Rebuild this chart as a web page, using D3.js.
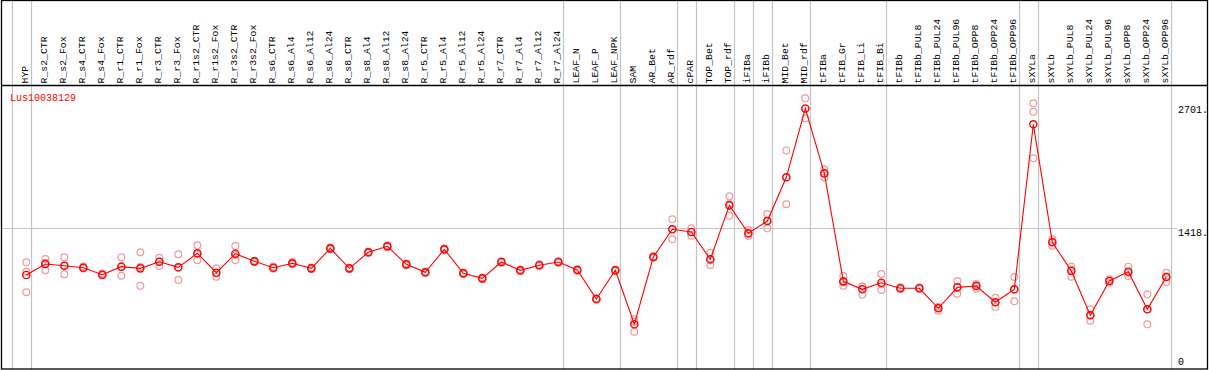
<!DOCTYPE html>
<html>
<head>
<meta charset="utf-8">
<script src="https://cdn.jsdelivr.net/npm/d3@7"></script>
<style>
  body { margin: 0; background: #fff; }
  text { font-family: "Liberation Mono", "DejaVu Sans Mono", monospace; }
</style>
</head>
<body>
<script>
var samples = ["HYP","R_s2_CTR","R_s2_Fox","R_s4_CTR","R_s4_Fox","R_r1_CTR","R_r1_Fox","R_r3_CTR","R_r3_Fox",
  "R_r1s2_CTR","R_r1s2_Fox","R_r3s2_CTR","R_r3s2_Fox","R_s6_CTR","R_s6_Al4","R_s6_Al12","R_s6_Al24",
  "R_s8_CTR","R_s8_Al4","R_s8_Al12","R_s8_Al24","R_r5_CTR","R_r5_Al4","R_r5_Al12","R_r5_Al24",
  "R_r7_CTR","R_r7_Al4","R_r7_Al12","R_r7_Al24","LEAF_N","LEAF_P","LEAF_NPK","SAM","AR_Bet","AR_rdf",
  "cPAR","TOP_Bet","TOP_rdf","iFIBa","iFIBb","MID_Bet","MID_rdf","tFIBa","tFIB_Gr","tFIB_Li","tFIB_Bi",
  "tFIBb","tFIBb_PUL8","tFIBb_PUL24","tFIBb_PUL96","tFIBb_OPP8","tFIBb_OPP24","tFIBb_OPP96",
  "sXYLa","sXYLb","sXYLb_PUL8","sXYLb_PUL24","sXYLb_PUL96","sXYLb_OPP8","sXYLb_OPP24","sXYLb_OPP96"];

// first sample of each tissue group (grey separators)
var groupStarts = ["HYP","R_s2_CTR","LEAF_N","SAM","cPAR","TOP_Bet","iFIBa","iFIBb","MID_Bet","tFIBa","tFIBb","sXYLa","sXYLb"];

var means = [920,1037,1019,998,923,1009,991,1062,1002,1152,944,1148,1066,998,1045,991,1205,991,1163,1227,
  1034,949,1195,938,884,1059,970,1024,1059,973,663,970,393,1112,1409,1380,1088,1665,1366,1497,1965,2701,
  2007,852,767,837,778,778,564,788,802,628,767,2532,1270,963,489,856,955,553,898];

var rep1 = [1056,1091,1109,990,935,1109,1163,1105,1141,1237,991,1230,1072,1012,1058,1000,1215,1001,1172,1238,
  1044,958,1205,948,893,1068,980,1034,1068,982,672,979,446,1121,1515,1419,1158,1761,1401,1572,2253,2810,
  2050,909,795,930,790,785,581,856,824,677,898,2756,1302,1009,553,874,1009,713,944];
var rep2 = [955,970,927,1010,915,912,805,1016,866,1077,902,1080,1059,988,1035,983,1196,982,1155,1218,
  1025,941,1186,929,876,1050,961,1015,1051,965,655,962,313,1104,1302,1340,1027,1554,1337,1419,1676,2596,
  1960,805,709,759,770,772,538,720,773,578,638,2666,1233,902,431,837,909,392,845];
var rep3 = [735,1050,1021,994,919,1006,1005,1065,999,1142,939,1134,1067,994,1042,990,1204,990,1162,1225,
  1033,948,1194,937,883,1059,969,1023,1058,972,662,969,420,1111,1410,1381,1079,1680,1360,1500,1966,2697,
  2011,842,797,822,774,777,573,788,809,629,765,2168,1275,978,483,857,947,554,905];

var geneName = "Lus10038129";
var yTicks = [0, 1418, 2701];
var yTickLabels = ["0", "1418.", "2701."];

var width = 1209, height = 370;
var svg = d3.select("body").append("svg")
    .attr("width", width)
    .attr("height", height);

var x = d3.scaleBand().domain(samples).range([11.7, 1170.7]);
var y = d3.scaleLinear().domain([0, 2701]).range([361, 108.5]);
var bw = x.bandwidth();
var px = function(i) { return x(samples[i]) + bw * 0.77; };

// vertical group separators
var seps = groupStarts.map(function(s) { return x(s); }).concat([x.range()[1]]);
svg.append("g").selectAll("line")
  .data(seps)
  .enter().append("line")
    .attr("x1", function(d) { return Math.round(d) + 0.5; })
    .attr("x2", function(d) { return Math.round(d) + 0.5; })
    .attr("y1", 0).attr("y2", height)
    .attr("stroke", "#c4c4c4")
    .attr("stroke-width", 1.2);

// horizontal grid at mean level
svg.append("line")
    .attr("x1", 1).attr("x2", 1177)
    .attr("y1", Math.round(y(1418)) + 0.5).attr("y2", Math.round(y(1418)) + 0.5)
    .attr("stroke", "#c4c4c4")
    .attr("stroke-width", 1.2);

// frame + header separator
svg.append("rect")
    .attr("x", 1.5).attr("y", 0.5)
    .attr("width", 1206).attr("height", 368.5)
    .attr("fill", "none").attr("stroke", "#000").attr("stroke-width", 1.3);
svg.append("line")
    .attr("x1", 1).attr("x2", 1208)
    .attr("y1", 85.5).attr("y2", 85.5)
    .attr("stroke", "#000").attr("stroke-width", 1.3);

// column labels
svg.append("g").selectAll("text")
  .data(samples)
  .enter().append("text")
    .attr("transform", function(d) { return "translate(" + (x(d) + 16.2) + ",83.5) rotate(-90)"; })
    .style("font-size", "9.8px")
    .attr("fill", "#000")
    .text(function(d) { return d; });

// gene name
svg.append("text")
    .attr("x", 10).attr("y", 97.5)
    .attr("dy", "0.35em")
    .style("font-size", "10px")
    .attr("fill", "#ff0000")
    .text(geneName);

// value labels on the right
svg.append("g").selectAll("text")
  .data(yTicks)
  .enter().append("text")
    .attr("x", 1178)
    .attr("y", function(d, i) { return y(d) + (i === 1 ? 4.3 : 0.7); })
    .attr("dy", "0.35em")
    .style("font-size", "10px")
    .attr("fill", "#000")
    .text(function(d, i) { return yTickLabels[i]; });

// replicate circles
var reps = [];
[rep1, rep2, rep3].forEach(function(r) {
  r.forEach(function(v, i) { reps.push({i: i, v: v}); });
});
svg.append("g").selectAll("circle")
  .data(reps)
  .enter().append("circle")
    .attr("cx", function(d) { return px(d.i); })
    .attr("cy", function(d) { return y(d.v); })
    .attr("r", 3.4)
    .attr("fill", "none")
    .attr("stroke", "#f09a9a")
    .attr("stroke-width", 1.2);

// mean line
var line = d3.line()
    .x(function(d, i) { return px(i); })
    .y(function(d) { return y(d); });
svg.append("path")
    .datum(means)
    .attr("fill", "none")
    .attr("stroke", "#ff0000")
    .attr("stroke-width", 1.1)
    .attr("d", line);

// mean circles
svg.append("g").selectAll("circle")
  .data(means)
  .enter().append("circle")
    .attr("cx", function(d, i) { return px(i); })
    .attr("cy", function(d) { return y(d); })
    .attr("r", 3.6)
    .attr("fill", "none")
    .attr("stroke", "#ff0000")
    .attr("stroke-width", 1.4);
</script>
</body>
</html>
